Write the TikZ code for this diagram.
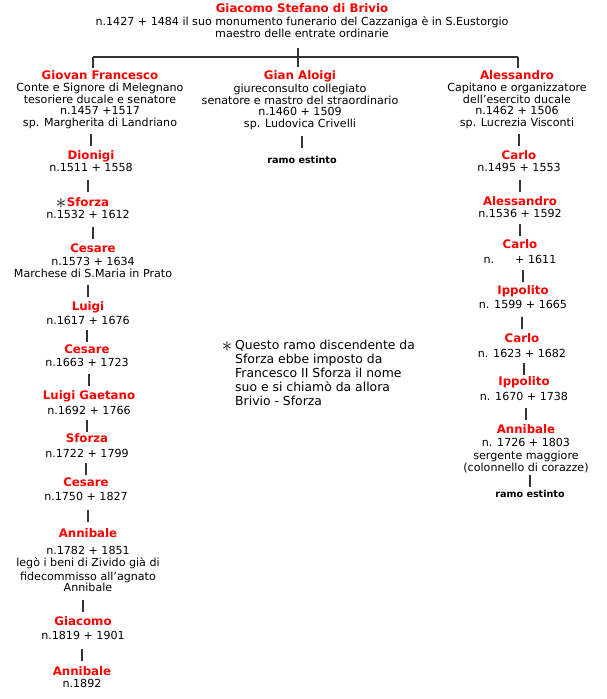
\documentclass[tikz,border=0pt]{standalone}
\usepackage{fontspec}
\setmainfont{DejaVu Sans}
\usetikzlibrary{calc}

\definecolor{namered}{HTML}{FF0000}
\definecolor{barcol}{HTML}{333333}
\newcommand{\nm}[1]{{\color{namered}\fontsize{11.8}{12}\selectfont\bfseries #1}}
\newcommand{\notemark}{{\fontsize{20}{20}\selectfont\raisebox{-1.5pt}{$\ast$}}}

\begin{document}
\begin{tikzpicture}[x=1pt,y=-1pt,
  every node/.style={inner sep=0pt,align=center,anchor=north,font=\fontsize{11.1}{11.5}\selectfont,
    execute at begin node={\rule{0pt}{9.5pt}},execute at end node={\rule[-3pt]{0pt}{3pt}}},
  bar/.style={draw=barcol,line width=2.4pt},
  tick/.style={bar,to path={($(\tikztostart)!.5!(\tikztotarget)$) +(0,-6) -- +(0,6)}},
  extinct/.style={font=\fontsize{9.6}{10}\selectfont\bfseries}]
  \useasboundingbox (0,0) rectangle (607,699);

  % head of the family
  \node (stefano) at (302,3.8) {\nm{Giacomo Stefano di Brivio}\\[1.5pt]
    n.1427 + 1484 il suo monumento funerario del Cazzaniga è in S.Eustorgio\\
    maestro delle entrate ordinarie};
  \coordinate (fork) at (298,57);
  \coordinate (forkL) at (93,57);
  \coordinate (forkR) at (518,57);

  % three sons
  \node (gf) at (100,70.8) {\nm{Giovan Francesco}\\[0.5pt]
    Conte e Signore di Melegnano\\tesoriere ducale e senatore\\n.1457 +1517\\sp. Margherita di Landriano};
  \node (aloigi) at (300,70.8) {\nm{Gian Aloigi}\\[1.5pt]
    giureconsulto collegiato\\senatore e mastro del straordinario\\n.1460 + 1509\\sp. Ludovica Crivelli};
  \node (alessA) at (517,70.8) {\nm{Alessandro}\\[0.5pt]
    Capitano e organizzatore\\dell'esercito ducale\\n.1462 + 1506\\sp. Lucrezia Visconti};

  \draw[bar] (forkL) -- (forkR);
  \draw[bar,shorten <=7pt,shorten >=3.8pt] (stefano.south -| fork) -- (fork |- aloigi.north);
  \draw[bar,shorten >=2.8pt] (forkL) -- (forkL |- gf.north);
  \draw[bar,shorten >=2.8pt] (forkR) -- (forkR |- alessA.north);

  % left branch (Brivio - Sforza)
  \node (dionigi) at (91,150.8) {\nm{Dionigi}\\[0.5pt] n.1511 + 1558};
  \node (sforzaA) at (88,197.8) {\llap{\notemark\hspace{0.5pt}}\nm{Sforza}\\[0.5pt] n.1532 + 1612};
  \node (cesareA) at (93,243.8) {\nm{Cesare}\\[1.5pt] n.1573 + 1634\\Marchese di S.Maria in Prato};
  \node (luigi) at (88,301.8) {\nm{Luigi}\\[2.5pt] n.1617 + 1676};
  \node (cesareB) at (87,344.8) {\nm{Cesare}\\[1.5pt] n.1663 + 1723};
  \node (luigiG) at (89,390.8) {\nm{Luigi Gaetano}\\[3.5pt] n.1692 + 1766};
  \node (sforzaB) at (87,433.8) {\nm{Sforza}\\[3.5pt] n.1722 + 1799};
  \node (cesareC) at (86,477.8) {\nm{Cesare}\\[2.5pt] n.1750 + 1827};
  \node (annibaleA) at (88,528.8) {\nm{Annibale}\\[5.5pt] n.1782 + 1851\\
    legò i beni di Zivido già di\\[2.5pt] fidecommisso all'agnato\\Annibale};
  \node (giacomo) at (83,616.8) {\nm{Giacomo}\\[2.5pt] n.1819 + 1901};
  \node (annibaleB) at (82,666.8) {\nm{Annibale}\\[0.5pt] n.1892};

  \draw[tick] (gf.south -| dionigi.north) to (dionigi.north);
  \draw[tick] (dionigi.south -| sforzaA.north) to (sforzaA.north);
  \draw[tick] (sforzaA.south -| cesareA.north) to (cesareA.north);
  \draw[tick] (cesareA.south -| luigi.north) to (luigi.north);
  \draw[tick] (luigi.south -| cesareB.north) to (cesareB.north);
  \draw[tick] (cesareB.south -| luigiG.north) to (luigiG.north);
  \draw[tick] (luigiG.south -| sforzaB.north) to (sforzaB.north);
  \draw[tick] (sforzaB.south -| cesareC.north) to (cesareC.north);
  \draw[tick] (cesareC.south -| annibaleA.north) to (annibaleA.north);
  \draw[tick] (annibaleA.south -| giacomo.north) to (giacomo.north);
  \draw[tick] (giacomo.south -| annibaleB.north) to (annibaleB.north);

  % middle branch
  \node[extinct] (estintoA) at (302,153.8) {ramo estinto};
  \draw[tick] (aloigi.south -| estintoA.north) to (estintoA.north);

  % right branch
  \node (carloA) at (519,150.8) {\nm{Carlo}\\[0.5pt] n.1495 + 1553};
  \node (alessB) at (520,196.8) {\nm{Alessandro}\\ n.1536 + 1592};
  \node (carloB) at (520,239.8) {\nm{Carlo}\\[3.5pt] n.\hspace{21pt}+ 1611};
  \node (ippolitoA) at (523,285.8) {\nm{Ippolito}\\[2.5pt] n. 1599 + 1665};
  \node (carloC) at (522,333.8) {\nm{Carlo}\\[3.5pt] n. 1623 + 1682};
  \node (ippolitoB) at (524,376.8) {\nm{Ippolito}\\[3.5pt] n. 1670 + 1738};
  \node (annibaleC) at (526,424.8) {\nm{Annibale}\\[1.5pt] n. 1726 + 1803\\[1.5pt]
    sergente maggiore\\(colonnello di corazze)};
  \node[extinct] (estintoB) at (530,487.8) {ramo estinto};

  \draw[tick] (alessA.south -| carloA.north) to (carloA.north);
  \draw[tick] (carloA.south -| alessB.north) to (alessB.north);
  \draw[tick] (alessB.south -| carloB.north) to (carloB.north);
  \draw[tick] (carloB.south -| ippolitoA.north) to (ippolitoA.north);
  \draw[tick] (ippolitoA.south -| carloC.north) to (carloC.north);
  \draw[tick] (carloC.south -| ippolitoB.north) to (ippolitoB.north);
  \draw[tick] (ippolitoB.south -| annibaleC.north) to (annibaleC.north);
  \draw[tick] (annibaleC.south -| estintoB.north) to (estintoB.north);

  % footnote
  \node[anchor=north west,align=left,font=\fontsize{12.4}{14}\selectfont] (note) at (235,340)
    {\llap{\notemark\hspace{3pt}}Questo ramo discendente da\\Sforza ebbe imposto da\\
     Francesco II Sforza il nome\\suo e si chiamò da allora\\Brivio - Sforza};
\end{tikzpicture}
\end{document}
